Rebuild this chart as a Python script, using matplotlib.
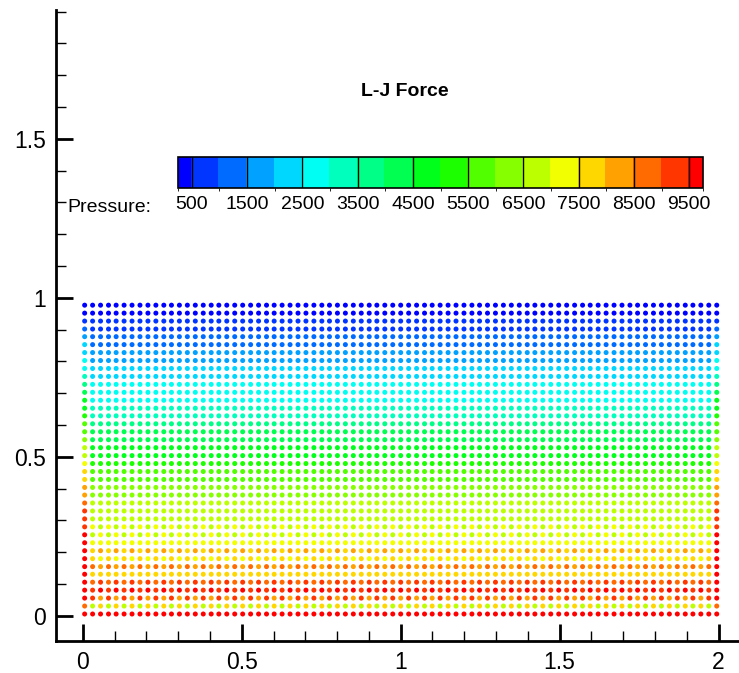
import numpy as np
import matplotlib
matplotlib.use("Agg")
import matplotlib.pyplot as plt
from matplotlib.colors import ListedColormap, BoundaryNorm, hsv_to_rgb
from matplotlib.ticker import MultipleLocator

plt.rcParams['font.family'] = ['Liberation Sans', 'DejaVu Sans']

# particle lattice
x_cols = [0.006, 0.031, 0.056, 0.081, 0.105, 0.130, 0.155, 0.180, 0.205, 0.230,
          0.255, 0.279, 0.304, 0.329, 0.354, 0.379, 0.404, 0.428, 0.453, 0.478,
          0.503, 0.528, 0.553, 0.578, 0.602, 0.627, 0.652, 0.677, 0.702, 0.727,
          0.752, 0.776, 0.801, 0.826, 0.851, 0.876, 0.901, 0.925, 0.950, 0.975,
          1.000, 1.025, 1.050, 1.075, 1.099, 1.124, 1.149, 1.174, 1.199, 1.224,
          1.248, 1.273, 1.298, 1.323, 1.348, 1.373, 1.398, 1.422, 1.447, 1.472,
          1.497, 1.522, 1.547, 1.572, 1.596, 1.621, 1.646, 1.671, 1.696, 1.721,
          1.745, 1.770, 1.795, 1.820, 1.845, 1.870, 1.895, 1.919, 1.944, 1.969,
          1.994]
y_rows = [0.006, 0.031, 0.056, 0.081, 0.106, 0.131, 0.155, 0.180, 0.205, 0.230,
          0.255, 0.280, 0.305, 0.330, 0.355, 0.380, 0.404, 0.429, 0.454, 0.479,
          0.504, 0.529, 0.554, 0.579, 0.604, 0.629, 0.653, 0.678, 0.703, 0.728,
          0.753, 0.778, 0.803, 0.828, 0.853, 0.878, 0.902, 0.927, 0.952, 0.977]

# pressure per row (bottom to top), even / odd columns
p_even = [9800, 7800, 8300, 9600, 9200, 7800, 8400, 7400, 8200, 7000,
          7200, 6800, 6700, 6700, 6600, 6200, 6000, 5700, 5500, 5200,
          4900, 4700, 4300, 4000, 3800, 3400, 3100, 2900, 2700, 2600,
          2300, 2100, 1800, 1600, 1300, 1100, 800, 600, 300, 100]
p_odd = [9800, 6800, 9200, 9300, 8700, 7600, 8700, 7700, 7800, 7300,
         6900, 7100, 6700, 6700, 6600, 6200, 6000, 5700, 5500, 5200,
         4900, 4700, 4300, 4000, 3800, 3400, 3100, 2900, 2700, 2600,
         2300, 2100, 1800, 1600, 1300, 1100, 800, 600, 300, 100]
# pressure of the particles touching the side walls
p_wall = [9800, 8500, 9800, 9800, 9800, 9800, 9800, 9800, 9800, 9800,
          9600, 9400, 9200, 9000, 8700, 8400, 8100, 7800, 7500, 7200,
          6900, 6600, 6300, 5900, 5600, 5200, 4900, 4600, 4200, 3600,
          3100, 2800, 2600, 2300, 2000, 1500, 1100, 700, 300, 100]

levels = [250, 500, 1000, 1500, 2000, 2500, 3000, 3500, 4000, 4500, 5000,
          5500, 6000, 6500, 7000, 7500, 8000, 8500, 9000, 9500, 9750]
level_labels = [500, 1500, 2500, 3500, 4500, 5500, 6500, 7500, 8500, 9500]

n_bands = len(levels) - 1
hues = [(240.0 * (1 - i / (n_bands - 1))) / 360.0 for i in range(n_bands)]
band_colors = [hsv_to_rgb((h, 1.0, 1.0)) for h in hues]
cmap = ListedColormap(band_colors)
norm = BoundaryNorm(levels, n_bands, clip=True)

xs, ys, ps = [], [], []
for k, y in enumerate(y_rows):
    for i, x in enumerate(x_cols):
        xs.append(x)
        ys.append(y)
        if i == 0 or i == len(x_cols) - 1:
            ps.append(p_wall[k])
        elif i % 2 == 0:
            ps.append(p_even[k])
        else:
            ps.append(p_odd[k])

fig = plt.figure(figsize=(7.39, 6.73), dpi=100)
ax = fig.add_axes([0.0754, 0.0475, 0.9246, 0.9376])
sc = ax.scatter(xs, ys, c=ps, cmap=cmap, norm=norm, s=13, linewidths=0)

ax.set_xlim(-0.085, 2.064)
ax.set_ylim(-0.079, 1.905)
for side in ['top', 'right']:
    ax.spines[side].set_visible(False)
for side in ['left', 'bottom']:
    ax.spines[side].set_linewidth(2)
ax.xaxis.set_major_locator(MultipleLocator(0.5))
ax.yaxis.set_major_locator(MultipleLocator(0.5))
ax.xaxis.set_minor_locator(MultipleLocator(0.1))
ax.yaxis.set_minor_locator(MultipleLocator(0.1))
fmt = lambda v, pos: ('%g' % round(v, 2))
ax.xaxis.set_major_formatter(fmt)
ax.yaxis.set_major_formatter(fmt)
ax.tick_params(which='major', direction='in', length=12, width=2,
               labelsize=16.5, pad=7)
ax.tick_params(which='minor', direction='in', length=7, width=1)

# legend bar
cax = fig.add_axes([0.2409, 0.7207, 0.7104, 0.0461])
cb = fig.colorbar(sc, cax=cax, orientation='horizontal', spacing='proportional')
cb.solids.set_edgecolor('face')
cb.set_ticks(level_labels)
cb.set_ticklabels([str(v) for v in level_labels])
cb.outline.set_linewidth(1.2)
cb.outline.set_edgecolor('black')
cax.tick_params(length=0, labelsize=14, pad=6)
for v in level_labels:
    cax.axvline(v, color='black', linewidth=1)

fig.text(0.0907, 0.6924, 'Pressure:', fontsize=14, ha='left', va='center')
fig.text(0.548, 0.8637, 'L-J Force', fontsize=14, fontweight='bold',
         ha='center', va='center')

fig.savefig('out.png', dpi=100)
